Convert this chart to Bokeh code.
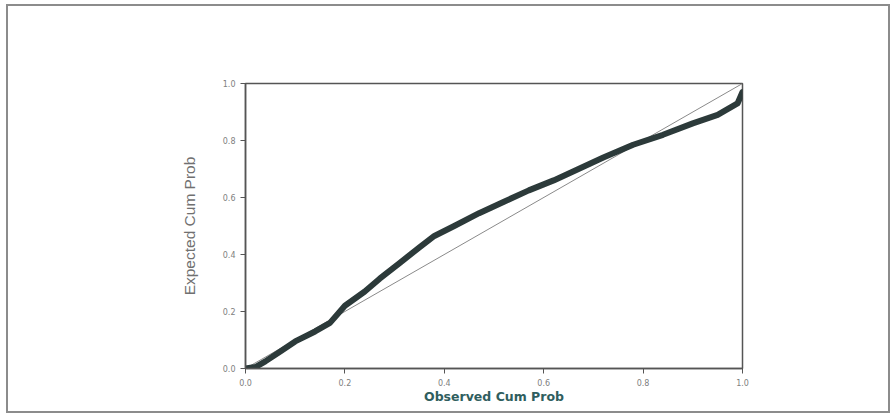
from bokeh.plotting import figure
from bokeh.models import Range1d, FixedTicker, InlineStyleSheet
from bokeh.embed import file_html
from bokeh.resources import INLINE

# Data (P-P plot)
observed = [0.0, 0.02, 0.04, 0.07, 0.10, 0.14, 0.17, 0.20, 0.24, 0.27, 0.31, 0.35,
            0.38, 0.42, 0.47, 0.52, 0.57, 0.62, 0.67, 0.72, 0.78, 0.84, 0.90,
            0.95, 0.99, 1.0]
expected = [0.0, 0.005, 0.025, 0.06, 0.095, 0.13, 0.16, 0.22, 0.27, 0.315, 0.37,
            0.425, 0.465, 0.50, 0.545, 0.585, 0.625, 0.66, 0.70, 0.74, 0.785,
            0.82, 0.86, 0.89, 0.93, 0.97]
diag_x = [0.0, 1.0]
diag_y = [0.0, 1.0]
ticks = [0.0, 0.2, 0.4, 0.6, 0.8, 1.0]

sheet = InlineStyleSheet(css="""
:host { position: relative; }
:host::after {
  content: '';
  position: absolute;
  left: 6px; top: 4px; width: 884px; height: 409px;
  border: 2px solid #8c8c8c;
  box-sizing: border-box;
  pointer-events: none;
}
""")

p = figure(width=895, height=416, output_backend="svg", toolbar_location=None,
           x_range=Range1d(0, 1), y_range=Range1d(0, 1), stylesheets=[sheet])
p.min_border_left = 245
p.min_border_right = 153
p.min_border_top = 83
p.min_border_bottom = 48
p.background_fill_color = "white"
p.border_fill_color = "white"
p.outline_line_color = "#555555"
p.outline_line_width = 1.5
p.xgrid.visible = False
p.ygrid.visible = False

p.line(diag_x, diag_y, line_color="#8a8a8a", line_width=1)
p.line(observed, expected, line_color="#2c3a3a", line_width=6, line_cap="round", line_join="round")

for ax in (p.xaxis[0], p.yaxis[0]):
    ax.ticker = FixedTicker(ticks=ticks)
    ax.minor_tick_line_color = None
    ax.major_tick_in = 0
    ax.major_tick_out = 5
    ax.axis_line_color = "#555555"
    ax.axis_line_width = 1.5
    ax.major_tick_line_color = "#555555"
    ax.major_label_text_font = "DejaVu Sans"
    ax.major_label_text_font_size = "8px"
    ax.major_label_text_color = "#808080"
    ax.major_label_standoff = 5
    ax.major_label_overrides = {t: f"{t:.1f}" for t in ticks}

p.xaxis.axis_label = "Observed Cum Prob"
p.xaxis.axis_label_text_font = "DejaVu Sans"
p.xaxis.axis_label_text_font_style = "bold"
p.xaxis.axis_label_text_font_size = "12.5px"
p.xaxis.axis_label_text_color = "#2f5e5e"
p.xaxis.axis_label_standoff = 0

p.yaxis.axis_label = "Expected Cum Prob"
p.yaxis.axis_label_text_font = "Liberation Sans"
p.yaxis.axis_label_text_font_style = "normal"
p.yaxis.axis_label_text_font_size = "15.5px"
p.yaxis.axis_label_text_color = "#707070"
p.yaxis.axis_label_standoff = 22

open("out.html", "w").write(file_html(p, INLINE))
